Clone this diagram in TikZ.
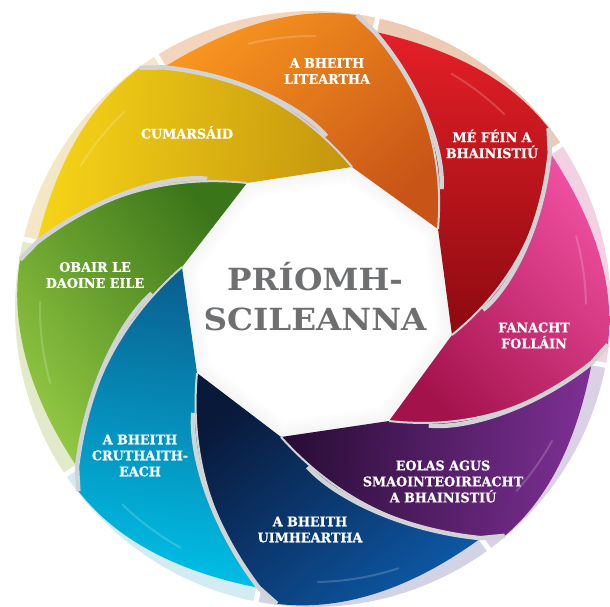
\documentclass[tikz,border=0pt]{standalone}
\usepackage{fontspec}
\setmainfont{DejaVu Serif}
\newfontfamily\titlefont[FakeStretch=1.07]{DejaVu Serif}
\newfontfamily\labfont[FakeStretch=0.96,BoldFeatures={FakeBold=0.8}]{DejaVu Serif}
\usetikzlibrary{calc}
\definecolor{Lyellow}{HTML}{F7D417}
\definecolor{Dyellow}{HTML}{C4960E}
\definecolor{Lorange}{HTML}{F8951F}
\definecolor{Dorange}{HTML}{C85417}
\definecolor{Lred}{HTML}{E51F27}
\definecolor{Dred}{HTML}{8C0A10}
\definecolor{Lpink}{HTML}{EF4FA0}
\definecolor{Dpink}{HTML}{A4124C}
\definecolor{Lpurple}{HTML}{7E3095}
\definecolor{Dpurple}{HTML}{280C35}
\definecolor{Lnavy}{HTML}{0D58A5}
\definecolor{Dnavy}{HTML}{09193A}
\definecolor{Lteal}{HTML}{00BFE6}
\definecolor{Dteal}{HTML}{0A5F8F}
\definecolor{Lgreen}{HTML}{92C842}
\definecolor{Dgreen}{HTML}{3B7519}
\definecolor{Ryellow}{HTML}{F3E7C6}
\definecolor{Rorange}{HTML}{F2D5BC}
\definecolor{Rred}{HTML}{EDCAB3}
\definecolor{Rpink}{HTML}{F2D1E2}
\definecolor{Rpurple}{HTML}{DCD0E6}
\definecolor{Rnavy}{HTML}{D3D3E6}
\definecolor{Rteal}{HTML}{D3EBF3}
\definecolor{Rgreen}{HTML}{E2EACC}
\definecolor{edgegray}{HTML}{D2D3D5}
\definecolor{titlegray}{HTML}{6E6F71}
\begin{document}
\begin{tikzpicture}[x=1pt,y=1pt,
  lab/.style={text=white,font=\labfont\bfseries\fontsize{13.3}{16}\selectfont,align=center,inner sep=0pt},
  title/.style={text=titlegray,font=\titlefont\bfseries\fontsize{30.5}{40}\selectfont,align=center,inner sep=0pt},
  edgeline/.style={draw=edgegray},
  gloss/.style={white,opacity=0.18,line width=2pt,line cap=round}]
\useasboundingbox (0,0) rectangle (610,606);
\clip (0,0) rectangle (610,606);
\coordinate (C) at (313,297);
% pale outer ring
\foreach \a/\b/\col in {77.5/121.7/Rorange, 121.7/166.4/Ryellow, 166.4/213.8/Rgreen, 213.8/259/Rteal, 259/306.2/Rnavy, 306.2/349.1/Rpurple, -10.9/33.5/Rpink, 33.5/77.5/Rred}{
  \fill[\col] ($(C)+(\a:230)$) arc[start angle=\a,end angle=\b,radius=230pt] -- ($(C)+(\b:298)$) arc[start angle=\b,end angle=\a,radius=298pt] -- cycle;
}
\foreach \a in {121.7,77.5,33.5,-10.9,-53.8,-101,-146.2,166.4}
  \draw[white,line width=5pt] ($(C)+(\a:272)$) -- ($(C)+(\a:310)$);
% blade geometry
\foreach \n/\ang/\tx/\ty in {yellow/121.7/352/439, orange/77.5/438/377, red/33.5/452/271, pink/-10.9/389/185, purple/-53.8/281/169, navy/-101/197/233, teal/-146.2/182/339, green/166.4/247/423}{
  \coordinate (T\n) at (\tx,\ty);
  \coordinate (P\n) at ($(C)+({\ang+4}:297)$);
  \coordinate (Q\n) at ($(C)+(\ang:284)$);
  \coordinate (A\n) at ($(Q\n)!1/3!(T\n)!29pt!90:(T\n)$);
  \coordinate (B\n) at ($(T\n)!1/3!(Q\n)!29pt!-90:(Q\n)$);
}
% soft shadow of the central opening
\foreach \w in {30,24,18,12,6}
  \draw[black,opacity=0.009,line width=\w pt,line join=round] (Tyellow) -- (Torange) -- (Tred) -- (Tpink) -- (Tpurple) -- (Tnavy) -- (Tteal) -- (Tgreen) -- cycle;
% blades
\foreach \n/\p/\aa/\ab/\kk/\sa in {yellow/green/166.4/125.7/69.5/85, orange/yellow/121.7/81.5/68.6/43, red/orange/77.5/37.5/68.2/0, pink/red/33.5/-6.9/69/-46, purple/pink/-10.9/-49.8/66.3/-94, navy/purple/-53.8/-97/73.8/-141, teal/navy/-101/-142.2/70.3/172, green/teal/213.8/170.4/74.1/128}{
  \shade[top color=L\n, middle color=L\n!90!D\n, bottom color=D\n, shading angle=\sa]
    (P\n) -- (Q\n) .. controls (A\n) and (B\n) .. (T\n)
    -- (T\p) .. controls (B\p) and (A\p) .. (Q\p)
    .. controls ($(Q\p)+({\aa-90}:\kk)$) and ($(P\n)+({\ab+90}:\kk)$) .. (P\n) -- cycle;
  \draw[gloss] ($(C)+({\ab+8}:273)$) arc[start angle={\ab+8},end angle={\aa-18},radius=273pt];
}
% grey bevel along each leading edge
\foreach \n in {yellow,orange,red,pink,purple,navy,teal,green}{
  \draw[edgeline,line width=2pt] (P\n) -- (Q\n) .. controls (A\n) and (B\n) .. (T\n);
  \draw[edgeline,line width=4.5pt,shorten >=40pt] (P\n) -- (Q\n) .. controls (A\n) and (B\n) .. (T\n);
}
% labels
\node[title] (centre) at (315,309.5) {PRÍOMH-\\SCILEANNA};
\node[lab] (lorange) at (327,535) {A BHEITH\\LITEARTHA};
\node[lab] (lyellow) at (187,473.5) {CUMARSÁID};
\node[lab] (lred) at (492,462) {MÉ FÉIN A\\BHAINISTIÚ};
\node[lab] (lpink) at (534,270.5) {FANACHT\\FOLLÁIN};
\node[lab] (lpurple) at (443,124.5) {EOLAS AGUS\\SMAOINTEOIREACHT\\A BHAINISTIÚ};
\node[lab] (lnavy) at (310,76.5) {A BHEITH\\UIMHEARTHA};
\node[lab] (lteal) at (140,150.5) {A BHEITH\\CRUTHAITH-\\EACH};
\node[lab] (lgreen) at (95,331) {OBAIR LE\\DAOINE EILE};
\end{tikzpicture}
\end{document}
